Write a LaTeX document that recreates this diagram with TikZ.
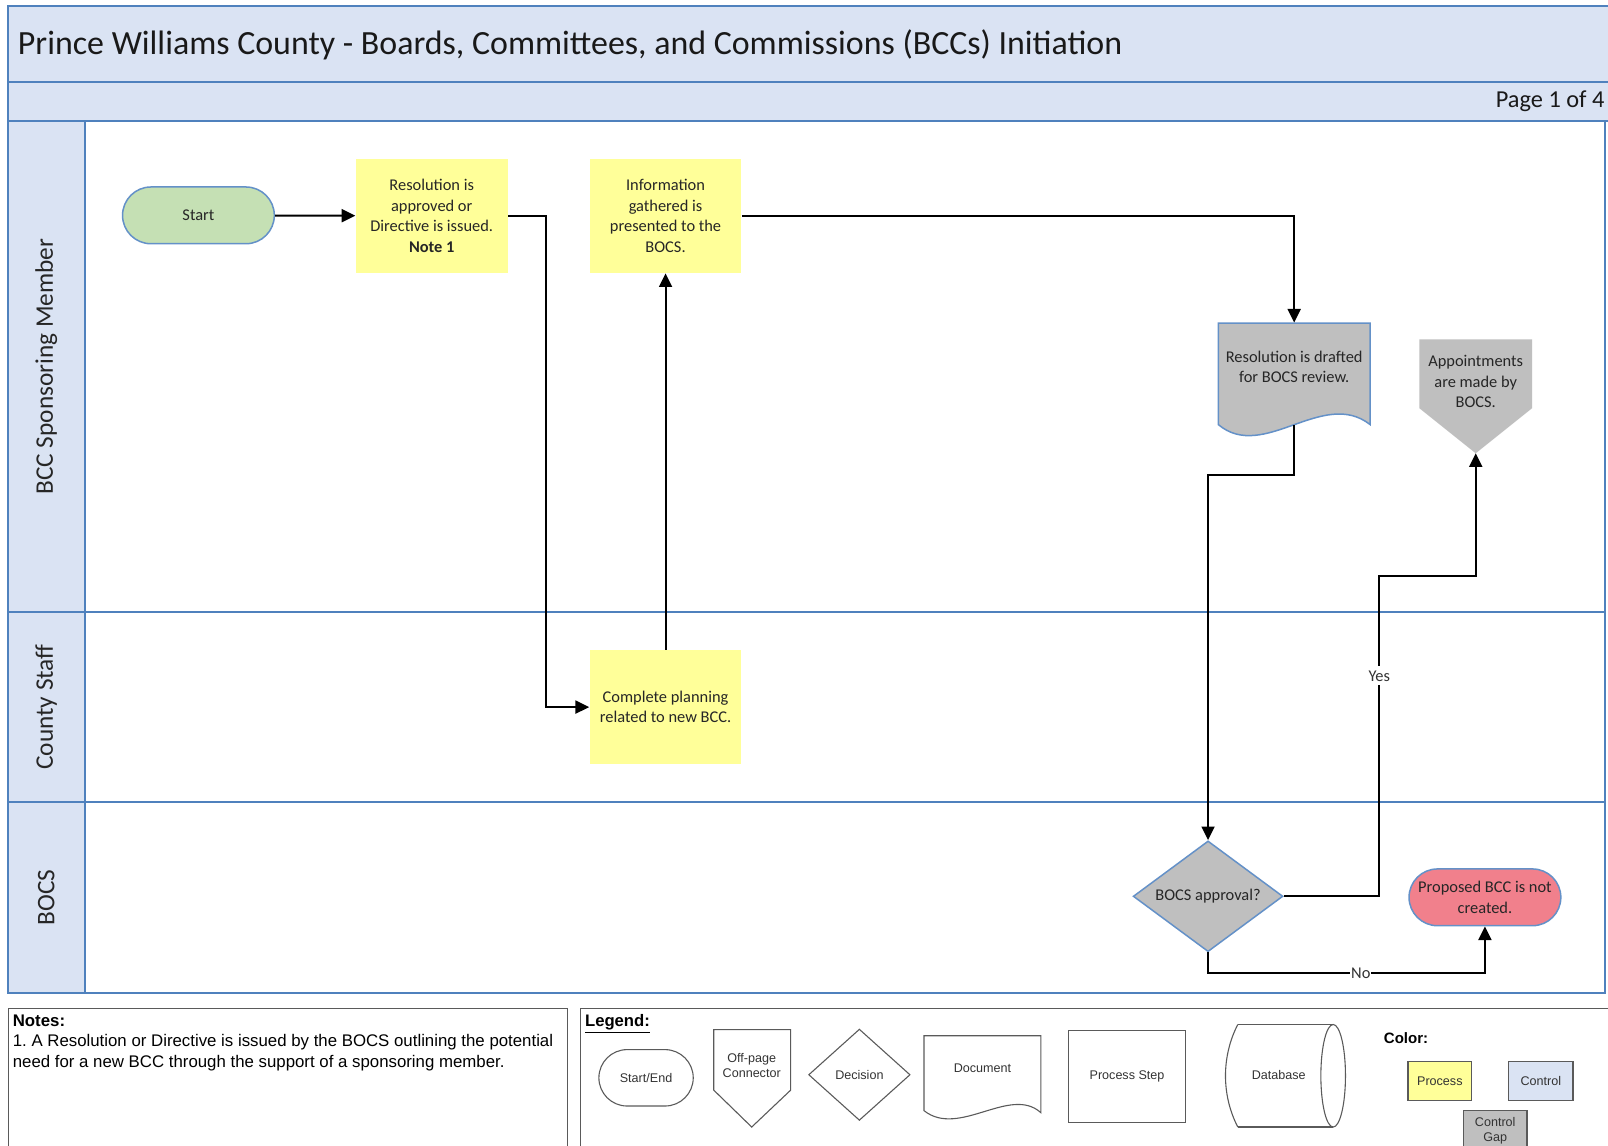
\documentclass[tikz,border=0pt]{standalone}
\usepackage{fontspec}
\setmainfont{Carlito}
\newfontfamily\arialfont{Liberation Sans}
\usetikzlibrary{arrows.meta,shapes.geometric,shapes.misc}

\definecolor{lanefill}{RGB}{218,227,243}
\definecolor{laneline}{RGB}{79,129,189}
\definecolor{startgreen}{RGB}{197,224,180}
\definecolor{procyellow}{RGB}{255,255,153}
\definecolor{gapgray}{RGB}{191,191,191}
\definecolor{endred}{RGB}{241,128,140}
\definecolor{shapeline}{RGB}{100,145,200}
\definecolor{legline}{RGB}{90,90,90}

\tikzset{every picture/.style={line width=0.75pt}}
\tikzset{
  lanebox/.style={draw=laneline,fill=lanefill,line width=1.5pt},
  lanearea/.style={draw=laneline,fill=white,line width=1.5pt},
  nodetext/.style={align=center,text=black!85,font=\fontsize{12}{15}\selectfont,inner sep=0pt},
  procbox/.style={nodetext,fill=procyellow,minimum width=111pt,minimum height=83.25pt},
  termbox/.style={nodetext,rounded rectangle,draw=shapeline,line width=1.1pt,minimum width=111pt,minimum height=41.5pt},
  decidebox/.style={nodetext,diamond,aspect=1.35,draw=shapeline,fill=gapgray,line width=1.1pt,minimum width=109.5pt,minimum height=81pt},
  flow/.style={draw=black,line width=1.5pt,-{Triangle[length=10pt,width=9.5pt]}},
  flowlbl/.style={fill=white,inner xsep=0.6pt,inner ysep=3pt,text=black!80,font=\fontsize{12}{14}\selectfont},
  lanelbl/.style={rotate=90,text=black!85,font=\fontsize{18.5}{22}\selectfont},
  legtext/.style={align=center,text=black!80,font=\arialfont\fontsize{9.2}{11}\selectfont,inner sep=0pt},
  legline/.style={draw=legline,line width=0.8pt}
}

\begin{document}
\frenchspacing
\begin{tikzpicture}[x=0.75pt,y=0.75pt,yscale=-1,xscale=1]
\useasboundingbox (0,0) rectangle (1568,1117);

%Shape: Rectangle (title bar)
\draw[lanebox] (8,6) rectangle (1580,80);
%Shape: Rectangle (page bar)
\draw[lanebox] (8,80) rectangle (1580,118);
%Shape: Swimlanes
\draw[lanearea] (83,118) rectangle (1565,597);
\draw[lanearea] (83,597) rectangle (1565,782);
\draw[lanearea] (83,782) rectangle (1565,968);
\draw[lanebox] (8,118) rectangle (83,597);
\draw[lanebox] (8,597) rectangle (83,782);
\draw[lanebox] (8,782) rectangle (83,968);

% Text Node
\node[anchor=west,inner sep=0pt,text=black!90,font=\fontsize{24.8}{29}\selectfont] (title) at (17,44) {Prince Williams County - Boards, Committees, and Commissions (BCCs) Initiation};
% Text Node
\node[anchor=east,inner sep=0pt,text=black!90,font=\fontsize{17.8}{21}\selectfont] (page) at (1565,99) {Page 1 of 4};
% Text Node
\node[lanelbl] (lanespons) at (45,357.5) {BCC Sponsoring Member};
\node[lanelbl] (lanestaff) at (45,689.5) {County Staff};
\node[lanelbl] (lanebocs) at (45,875) {BOCS};

%Shape: Terminator
\node[termbox,fill=startgreen] (start) at (193.5,210) {Start};
%Shape: Process
\node[procbox] (resol) at (421,210.5) {Resolution is\\approved or\\Directive is issued.\\\textbf{Note 1}};
\node[procbox] (info) at (649,210.5) {Information\\gathered is\\presented to the\\BOCS.};
\node[procbox] (plan) at (649,689.5) {Complete planning\\related to new BCC.};
%Shape: Document
\draw[draw=shapeline,fill=gapgray,line width=1.1pt] (1188,315) -- (1336,315) -- (1336,414) .. controls (1290,378) and (1232,451) .. (1188,414) -- cycle;
\node[nodetext,minimum width=111pt,minimum height=74.25pt] (draft) at (1262,364.5) {Resolution is drafted\\for BOCS review.\rule[-10pt]{0pt}{0pt}};
%Shape: Off-page Connector
\fill[gapgray] (1384,331) -- (1494,331) -- (1494,398) -- (1439,442) -- (1384,398) -- cycle;
\coordinate (apptip) at (1439,442);
\node[nodetext] (appoint) at (1439,372) {Appointments\\are made by\\BOCS.};
%Shape: Decision
\node[decidebox] (decide) at (1178,874) {BOCS approval?};
%Shape: Terminator
\node[termbox,fill=endred] (fail) at (1448,875) {Proposed BCC is not\\created.};

%Connectors
\draw[flow] (start) -- (resol);
\coordinate (resbend) at (532,689.5);
\draw[flow] (resol.east) -| (resbend) -- (plan.west);
\draw[flow] (plan) -- (info);
\draw[flow] (info.east) -| (draft.north);
\coordinate (draftbend) at (1220,463);
\draw[flow] (draft.south) |- (draftbend) -| (decide.north);
\coordinate (yesbend) at (1345,562);
\draw[flow] (decide.east) -| (yesbend) -| (apptip);
\node[flowlbl] (yeslbl) at (1345,659) {Yes};
\coordinate (nobend) at (1300,949);
\draw[flow] (decide.south) |- (nobend) -| (fail.south);
\node[flowlbl,inner ysep=0.6pt] (nolbl) at (1327,949) {No};

%Shape: Notes box
\draw[legline] (8,983) rectangle (553,1130);
% Text Node
\node[anchor=north west,align=left,inner sep=0pt,text=black,font=\arialfont\fontsize{12.3}{15}\selectfont] (notes) at (12,989) {\textbf{Notes:}\\1. A Resolution or Directive is issued by the BOCS outlining the potential\\need for a new BCC through the support of a sponsoring member.};

%Shape: Legend box
\draw[legline] (566,983) rectangle (1580,1130);
% Text Node
\node[anchor=north west,inner sep=0pt,text=black,font=\arialfont\fontsize{12.2}{15}\selectfont] (legend) at (570,989) {\underline{\textbf{Legend:}}};
%Legend shapes
\node[legtext,legline,rounded rectangle,minimum width=69pt,minimum height=41.25pt] (legstart) at (630,1051) {Start/End};
\draw[legline] (696,1004) -- (771,1004) -- (771,1063) -- (733,1099) -- (696,1063) -- cycle;
\node[legtext] (legoff) at (733,1039) {Off-page\\Connector};
\node[legtext,legline,diamond,aspect=1.1,minimum width=74.25pt,minimum height=66.75pt] (legdecide) at (838,1048) {Decision};
\draw[legline] (901,1010) -- (1015,1010) -- (1015,1085) .. controls (985,1058) and (935,1110) .. (901,1083) -- cycle;
\node[legtext] (legdoc) at (958,1042) {Document};
\node[legtext,legline,minimum width=85.5pt,minimum height=67.5pt] (legproc) at (1099,1050) {Process Step};
\draw[legline] (1207,999) -- (1300,999) (1207,1099) -- (1300,1099);
\draw[legline] (1207,999) .. controls (1191,1030) and (1191,1068) .. (1207,1099);
\draw[legline] (1300,1049) ellipse (12 and 50);
\node[legtext] (legdb) at (1247,1048) {Database};
% Text Node
\node[anchor=west,inner sep=0pt,text=black,font=\arialfont\bfseries\fontsize{11}{13}\selectfont] (legcolor) at (1349,1012) {Color:};
\node[legtext,legline,fill=procyellow,minimum width=46.5pt,minimum height=28.5pt] (legprocess) at (1404,1054) {Process};
\node[legtext,legline,fill=lanefill,minimum width=47pt,minimum height=28.5pt] (legcontrol) at (1502.5,1054) {Control};
\draw[legline,fill=gapgray] (1427,1083) rectangle (1489,1130);
\node[legtext] (leggap) at (1458,1103) {Control\\Gap};

\end{tikzpicture}
\end{document}
